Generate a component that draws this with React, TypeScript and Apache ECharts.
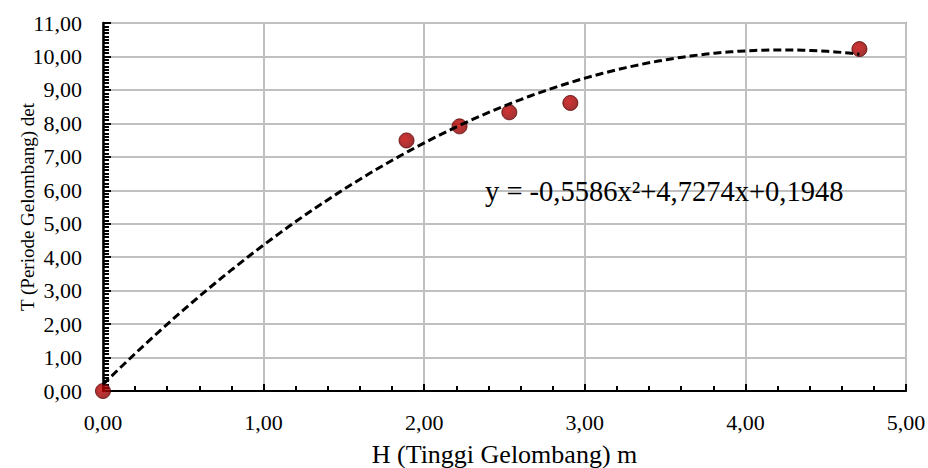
import React, { useEffect, useRef } from "react";
import * as echarts from "echarts";

// Measured data points: H (wave height, m) and T (wave period, s)
const H_VALUES = [0, 1.89, 2.22, 2.53, 2.91, 4.71];
const T_VALUES = [0, 7.49, 7.91, 8.33, 8.61, 10.22];

// Polynomial trendline coefficients as printed on the chart: a*x^2 + b*x + c
const TREND_COEFFS = [-0.5586, 4.7274, 0.1948];
const TREND_LABEL = "y = -0,5586x²+4,7274x+0,1948";

const X_NAME = "H (Tinggi Gelombang) m";
const Y_NAME = "T (Periode Gelombang) det";

const fmt = (v: number) => v.toFixed(2).replace(".", ",");

export default function App() {
  const ref = useRef<HTMLDivElement>(null);

  useEffect(() => {
    document.body.style.margin = "0";
    if (!ref.current) return;
    const chart = echarts.init(ref.current, null, { renderer: "svg" });

    const xEnd = Math.max(...H_VALUES);
    const trend: number[][] = [];
    const steps = 94;
    for (let i = 0; i <= steps; i++) {
      const x = (xEnd * i) / steps;
      const [a, b, c] = TREND_COEFFS;
      trend.push([x, a * x * x + b * x + c]);
    }

    const font = "Liberation Serif";

    chart.setOption({
      animation: false,
      backgroundColor: "#ffffff",
      textStyle: { fontFamily: font },
      grid: {
        left: 103,
        right: 22,
        top: 23,
        bottom: 77,
        show: true,
        borderColor: "#9a9a9a",
        borderWidth: 2,
        containLabel: false,
        outerBoundsMode: "none",
      },
      xAxis: {
        type: "value",
        min: 0,
        max: 5,
        interval: 1,
        name: X_NAME,
        nameLocation: "middle",
        nameGap: 50,
        nameTextStyle: { fontFamily: font, fontSize: 26, color: "#000" },
        axisLine: { show: true, onZero: false, lineStyle: { color: "#000", width: 2 } },
        axisTick: { show: true, inside: true, length: 7, lineStyle: { color: "#000", width: 2 } },
        minorTick: { show: true, splitNumber: 5, length: 5, lineStyle: { color: "#000", width: 2 } },
        axisLabel: { formatter: fmt, fontFamily: font, fontSize: 22, color: "#000", margin: 20 },
        splitLine: { show: true, lineStyle: { color: "#c0c0c0", width: 2 } },
      },
      yAxis: {
        type: "value",
        min: 0,
        max: 11,
        interval: 1,
        name: Y_NAME,
        nameLocation: "middle",
        nameGap: 66,
        nameMoveOverlap: false,
        nameRotate: 90,
        nameTextStyle: { fontFamily: font, fontSize: 19, color: "#000" },
        axisLine: { show: true, onZero: false, lineStyle: { color: "#000", width: 2.5 } },
        axisTick: { show: true, inside: true, length: 8, lineStyle: { color: "#000", width: 2 } },
        minorTick: { show: true, splitNumber: 10, length: 6, lineStyle: { color: "#000", width: 2 } },
        axisLabel: { formatter: fmt, fontFamily: font, fontSize: 22, color: "#000", margin: 21 },
        splitLine: { show: true, lineStyle: { color: "#c0c0c0", width: 2 } },
      },
      series: [
        {
          type: "scatter",
          data: H_VALUES.map((h, i) => [h, T_VALUES[i]]),
          symbol: "circle",
          symbolSize: 15,
          clip: false,
          itemStyle: {
            color: {
              type: "radial",
              x: 0.4,
              y: 0.4,
              r: 0.6,
              colorStops: [
                { offset: 0, color: "#c80000" },
                { offset: 1, color: "#8a0000" },
              ],
            },
            borderColor: "#5a0000",
            borderWidth: 1,
          },
          z: 2,
        },
        {
          type: "line",
          data: trend,
          showSymbol: false,
          symbol: "none",
          smooth: false,
          lineStyle: { color: "#000", width: 3, type: [8, 4] },
          z: 3,
        },
      ],
      graphic: [
        {
          type: "text",
          left: 485,
          top: 177,
          style: { text: TREND_LABEL, fontFamily: font, fontSize: 28.5, fill: "#000" },
          z: 10,
        },
      ],
    });

    return () => chart.dispose();
  }, []);

  return <div ref={ref} style={{ width: 928, height: 468 }} />;
}
